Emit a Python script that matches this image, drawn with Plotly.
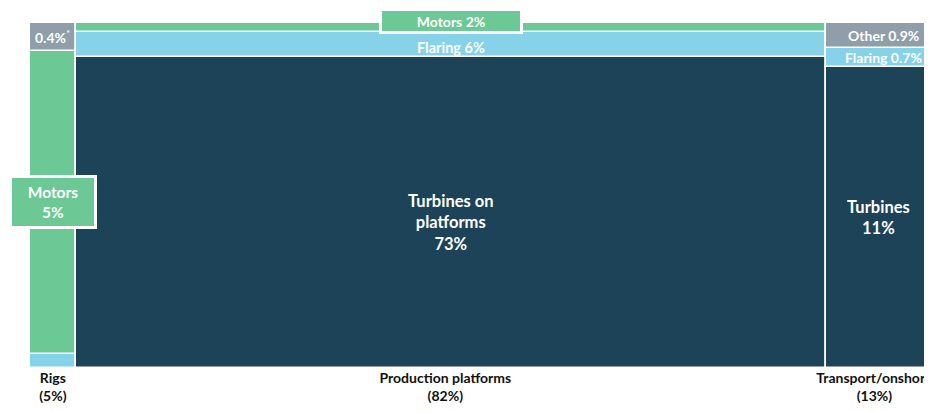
import plotly.graph_objects as go

# Column categories (share of total, %)
columns = ["Rigs", "Production platforms", "Transport/onshore"]
column_share = [5, 82, 13]

# Segments within each column, bottom to top (values in % of total)
rig_segments = ["Flaring", "Motors", "Other"]
rig_values = [0.2, 4.4, 0.4]

prod_segments = ["Turbines", "Flaring", "Motors"]
prod_values = [73, 6, 2]

trans_segments = ["Turbines", "Flaring", "Other"]
trans_values = [11, 0.7, 0.9]

colors = {
    "Turbines": "#1d4359",
    "Flaring": "#86d2e8",
    "Motors": "#6cc894",
    "Other": "#8f9ea8",
}

FONT = "Lato"
XMAX = 98.6

fig = go.Figure()

segs = [rig_segments, prod_segments, trans_segments]
vals = [rig_values, prod_values, trans_values]

left = 0
lefts = []
centers = []
for i, share in enumerate(column_share):
    lefts.append(left)
    centers.append(left + share / 2)
    total = sum(vals[i])
    base = 0
    for name, v in zip(segs[i], vals[i]):
        h = v / total * 100
        fig.add_trace(go.Bar(
            x=[left + share / 2], y=[h], base=[base], width=[share],
            marker=dict(color=colors[name], line=dict(color="white", width=1.6)),
            showlegend=False, hoverinfo="skip",
        ))
        base += h
    left += share


def seg_center(col, idx):
    total = sum(vals[col])
    b = sum(vals[col][:idx]) / total * 100
    return b + vals[col][idx] / total * 50


# visible centre of the last column (clipped at the right edge)
trans_cx = (lefts[2] + XMAX) / 2
prod_cx = centers[1]
rig_cx = centers[0]


def wf(size):
    return dict(family=FONT, color="white", size=size)


anns = [
    # Rigs
    dict(x=rig_cx, y=seg_center(0, 2), text="<b>0.4%</b><sup>*</sup>", font=wf(14)),
    dict(x=rig_cx, y=seg_center(0, 1), text="<b>Motors<br>5%</b>", font=wf(15.5),
         bgcolor=colors["Motors"], bordercolor="white", borderwidth=3,
         width=80, height=46),
    # Production
    dict(x=prod_cx, y=seg_center(1, 0) - 3, text="<b>Turbines on<br>platforms<br>73%</b>",
         font=wf(16.5)),
    dict(x=prod_cx, y=seg_center(1, 1), yshift=-3, text="<b>Flaring 6%</b>", font=wf(14.5)),
    dict(x=prod_cx, y=seg_center(1, 2), yshift=6, text="<b>Motors 2%</b>", font=wf(14),
         bgcolor=colors["Motors"], bordercolor="white", borderwidth=3,
         width=136, height=18),
    # Transport
    dict(x=trans_cx, y=seg_center(2, 0), text="<b>Turbines<br>11%</b>", font=wf(16.5)),
    dict(x=trans_cx + 0.5, y=seg_center(2, 1), text="<b>Flaring 0.7%</b>", font=wf(14)),
    dict(x=trans_cx + 0.5, y=seg_center(2, 2), text="<b>Other 0.9%</b>", font=wf(14)),
]
for a in anns:
    a.update(xref="x", yref="y", showarrow=False)
    fig.add_annotation(**a)

tick_text = [f"<b>{c}<br>({s}%)</b>" for c, s in zip(columns, column_share)]
tick_vals = [rig_cx, prod_cx - 0.6, trans_cx - 0.5]

fig.update_layout(
    width=924, height=396,
    margin=dict(l=22, r=0, t=15, b=36),
    plot_bgcolor="white", paper_bgcolor="white",
    barmode="overlay", bargap=0,
    xaxis=dict(range=[0, XMAX], showgrid=False, zeroline=False, showline=False,
               automargin=False, ticklabeloverflow="allow", ticklabelstandoff=0,
               tickvals=tick_vals, ticktext=tick_text, ticks="",
               tickfont=dict(family=FONT, size=14, color="#111111")),
    yaxis=dict(range=[0, 100], showgrid=False, zeroline=False, showline=False,
               automargin=False, showticklabels=False),
    font=dict(family=FONT),
)

fig.write_html("out.html")
